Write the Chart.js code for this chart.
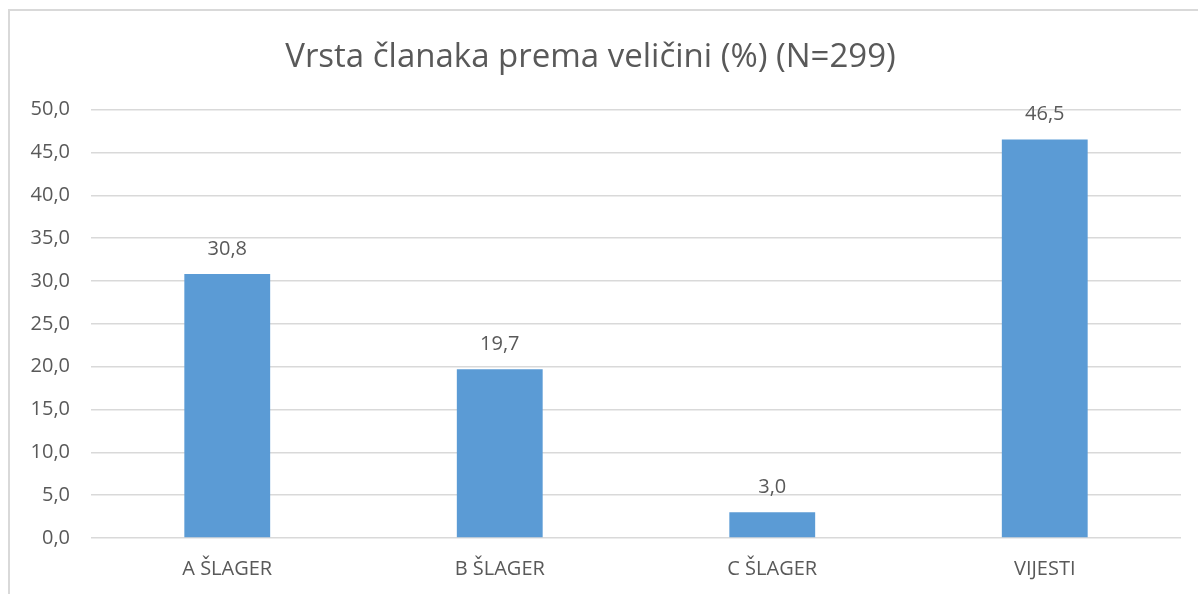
<!DOCTYPE html>
<html>
<head>
<meta charset="utf-8">
<script src="https://cdn.jsdelivr.net/npm/chart.js@4"></script>
<style>
  html, body { margin: 0; padding: 0; background: #fff; }
  #wrap { width: 1198px; height: 594px; position: relative; }
</style>
</head>
<body>
<div id="wrap"><canvas id="barChart"></canvas></div>
<script>
const categories = ['A ŠLAGER', 'B ŠLAGER', 'C ŠLAGER', 'VIJESTI'];
const percentages = [30.8, 19.7, 3.0, 46.5];
const chartTitle = 'Vrsta članaka prema veličini (%) (N=299)';

const fmt = v => v.toFixed(1).replace('.', ',');

// frame like the office chart border (left + top edge only visible)
const framePlugin = {
    id: 'frame',
    beforeDraw(chart) {
        const ctx = chart.ctx;
        ctx.save();
        ctx.fillStyle = '#fff';
        ctx.fillRect(0, 0, chart.width, chart.height);
        ctx.strokeStyle = '#d9d9d9';
        ctx.lineWidth = 2;
        ctx.beginPath();
        ctx.moveTo(9, chart.height + 5);
        ctx.lineTo(9, 10);
        ctx.lineTo(chart.width + 5, 10);
        ctx.stroke();
        ctx.restore();
    }
};

const valueLabels = {
    id: 'valueLabels',
    afterDatasetsDraw(chart) {
        const ctx = chart.ctx;
        ctx.save();
        ctx.font = '20px "Open Sans"';
        ctx.fillStyle = '#595959';
        ctx.textAlign = 'center';
        ctx.textBaseline = 'middle';
        chart.getDatasetMeta(0).data.forEach((bar, i) => {
            ctx.fillText(fmt(percentages[i]), bar.x, bar.y - 25);
        });
        ctx.restore();
    }
};

new Chart(document.getElementById('barChart'), {
    type: 'bar',
    data: {
        labels: categories,
        datasets: [{
            data: percentages,
            backgroundColor: '#5b9bd5',
            barPercentage: 0.63,
            categoryPercentage: 0.5
        }]
    },
    options: {
        responsive: true,
        maintainAspectRatio: false,
        animation: false,
        layout: { padding: { left: 0, right: 17, top: 0, bottom: 0 } },
        plugins: {
            legend: { display: false },
            tooltip: { enabled: false },
            title: {
                display: true,
                text: chartTitle,
                color: '#595959',
                font: { family: 'Open Sans', size: 33, weight: 'normal' },
                padding: { top: 38, bottom: 32 }
            }
        },
        scales: {
            x: {
                grid: { display: false, drawTicks: false },
                border: { display: false },
                ticks: { color: '#595959', font: { family: 'Open Sans', size: 20 }, padding: 19 },
                afterFit: s => { s.height = 56; }
            },
            y: {
                min: 0,
                max: 50,
                ticks: {
                    stepSize: 5,
                    color: '#595959',
                    font: { family: 'Open Sans', size: 20 },
                    padding: 21,
                    callback: v => fmt(v)
                },
                grid: { color: '#d9d9d9', lineWidth: 1.5, drawTicks: false },
                border: { display: false },
                afterFit: s => { s.width = 91; }
            }
        }
    },
    plugins: [framePlugin, valueLabels]
});
</script>
</body>
</html>
